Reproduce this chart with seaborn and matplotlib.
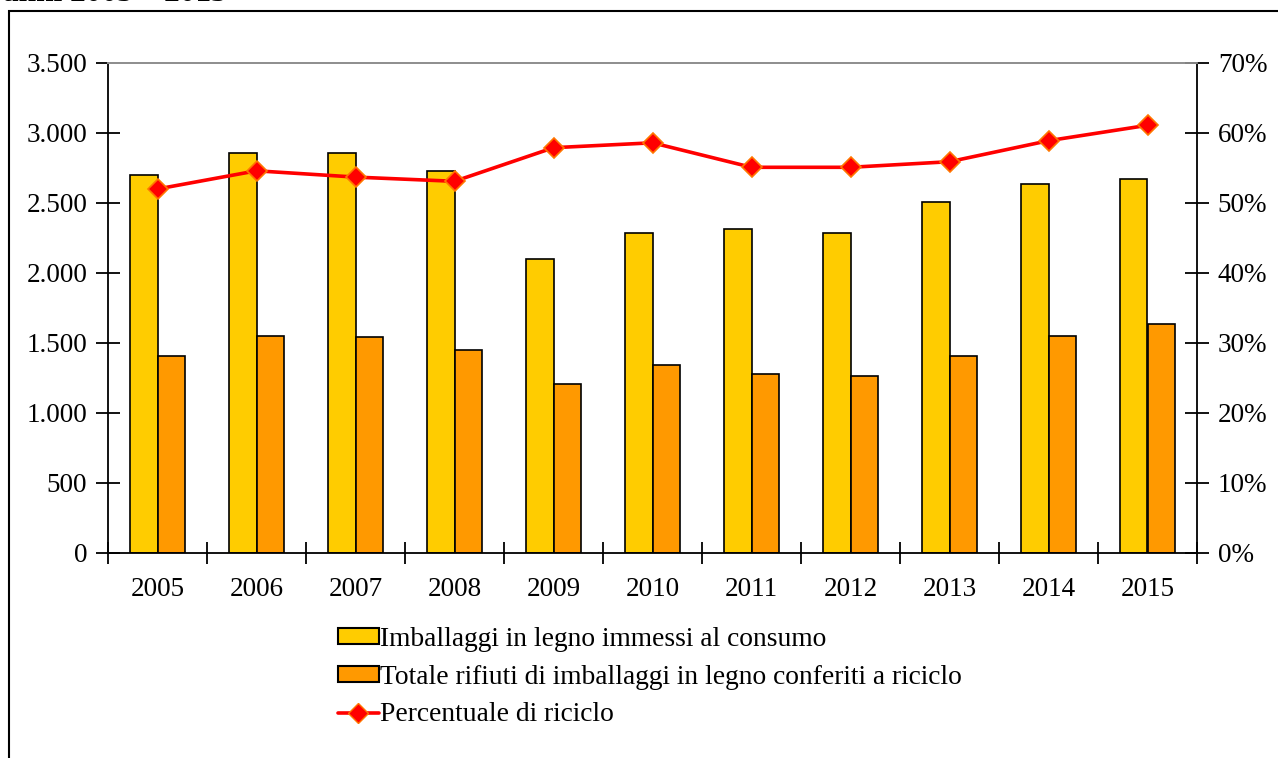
import numpy as np
import pandas as pd
import matplotlib
matplotlib.use('Agg')
import matplotlib.pyplot as plt
from matplotlib.patches import Patch, Rectangle
from matplotlib.lines import Line2D
from matplotlib.ticker import FuncFormatter
import seaborn as sns

# dati (tonnellate x 1000 e percentuale di riciclo)
anni = ['2005', '2006', '2007', '2008', '2009', '2010', '2011', '2012', '2013', '2014', '2015']
immessi = [2700, 2860, 2860, 2730, 2100, 2285, 2315, 2285, 2505, 2635, 2670]
riciclo = [1405, 1550, 1545, 1450, 1205, 1345, 1280, 1265, 1405, 1550, 1635]
percentuale = [52.0, 54.6, 53.7, 53.1, 57.9, 58.6, 55.1, 55.1, 55.9, 58.9, 61.1]

lab_immessi = 'Imballaggi in legno immessi al consumo'
lab_riciclo = 'Totale rifiuti di imballaggi in legno conferiti a riciclo'
lab_perc = 'Percentuale di riciclo'
titolo = 'anni 2005 \u2013 2015'

giallo = '#FFCC00'
arancio = '#FF9900'

df = pd.DataFrame({
    'anno': anni * 2,
    'valore': immessi + riciclo,
    'serie': [lab_immessi] * len(anni) + [lab_riciclo] * len(anni),
})

sns.set_theme(style='white')
plt.rcParams['font.family'] = ['Liberation Serif', 'DejaVu Serif']
plt.rcParams['text.color'] = 'black'
plt.rcParams['xtick.color'] = 'black'
plt.rcParams['ytick.color'] = 'black'
fs = 19.5

W, H = 1278, 758
fig = plt.figure(figsize=(W / 100, H / 100), dpi=100)
ax = fig.add_axes([108 / W, 1 - 553 / H, (1197 - 108) / W, (553 - 63) / H])

sns.barplot(data=df, x='anno', y='valore', hue='serie', palette=[giallo, arancio],
            width=0.56, gap=0, saturation=1, edgecolor='black', linewidth=1.2,
            ax=ax, legend=False)
ax.set_ylim(0, 3500)
ax.set_xlim(-0.5, len(anni) - 0.5)
ax.set_yticks(np.arange(0, 3501, 500))
ax.yaxis.set_major_formatter(FuncFormatter(lambda v, p: f'{int(v):,}'.replace(',', '.')))
ax.set_xlabel('')
ax.set_ylabel('')
ax.set_xticks(np.arange(-0.5, len(anni), 1), minor=True)
ax.tick_params(axis='x', which='major', length=0, pad=17, labelsize=fs)
ax.tick_params(axis='x', which='minor', direction='inout', length=16, width=1.3,
               color='black', bottom=True)
ax.tick_params(axis='y', direction='inout', length=17, width=1.3, color='black',
               pad=6.5, labelsize=fs, left=True)

ax2 = ax.twinx()
sns.lineplot(x=np.arange(len(anni)), y=percentuale, ax=ax2, color='red', linewidth=2.6,
             marker='D', markersize=10.5, markerfacecolor='red',
             markeredgecolor='#FF7700', markeredgewidth=1.2, zorder=5)
ax2.set_ylim(0, 70)
ax2.set_yticks(np.arange(0, 71, 10))
ax2.yaxis.set_major_formatter(FuncFormatter(lambda v, p: f'{int(v)}%'))
ax2.set_ylabel('')
ax2.tick_params(axis='y', direction='inout', length=17, width=1.3, color='black',
                pad=6.5, labelsize=fs, right=True)
if ax2.get_legend():
    ax2.get_legend().remove()

for a in (ax, ax2):
    for s in ('left', 'bottom', 'right'):
        a.spines[s].set_color('black')
        a.spines[s].set_linewidth(1.3)
    a.spines['top'].set_color('#909090')
    a.spines['top'].set_linewidth(1.3)
ax.spines['right'].set_visible(False)
ax2.spines['left'].set_visible(False)
ax2.spines['bottom'].set_visible(False)

handles = [
    Patch(facecolor=giallo, edgecolor='black', linewidth=1.5),
    Patch(facecolor=arancio, edgecolor='black', linewidth=1.5),
    Line2D([], [], color='red', linewidth=2.6, marker='D', markersize=10.5,
           markerfacecolor='red', markeredgecolor='#FF7700'),
]
fig.legend(handles, [lab_immessi, lab_riciclo, lab_perc], loc='upper left',
           bbox_to_anchor=(338 / W, 1 - 627 / H), frameon=False, fontsize=19.8,
           handlelength=1.48, handleheight=0.5, handletextpad=0.05, labelspacing=0.46,
           borderpad=0, borderaxespad=0)

# cornice esterna e titolo tagliato
fig.patches.append(Rectangle((9 / W, -0.1), 1.2, 1 - 11 / H + 0.1, transform=fig.transFigure,
                             fill=False, edgecolor='black', linewidth=1.5))
fig.text(3 / W, 1 - 0.8 / H, titolo, fontsize=22.5, fontweight='bold', va='baseline', ha='left')

fig.savefig('out.png', dpi=100)
